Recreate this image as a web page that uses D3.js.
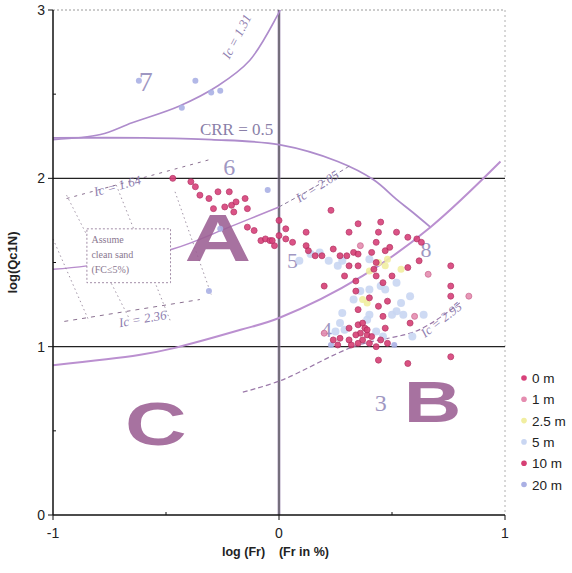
<!DOCTYPE html>
<html>
<head>
<meta charset="utf-8">
<script src="https://cdn.jsdelivr.net/npm/d3@7"></script>
<style>
  body { margin: 0; background: #fff; }
  text { font-family: Arial, "Liberation Sans", sans-serif; }
</style>
</head>
<body>
<div id="chart"></div>
<script>
// tick values
var xTicks = [-1, 0, 1];
var yTicks = [0, 1, 2, 3];
var xMinor = [-0.5, 0.5];
var yMinor = [0.5, 1.5, 2.5];

// series (log Fr, log Qc1N)
var depth0 = [[-0.47,2.00],[-0.39,1.98],[-0.37,1.95],[-0.35,1.90],[-0.31,1.88],[-0.27,1.92],[-0.22,1.92],
  [-0.29,1.82],[-0.24,1.83],[-0.21,1.84],[-0.19,1.86],[-0.15,1.88],[-0.20,1.80],[-0.14,1.82],
  [-0.14,1.71],[-0.11,1.69],[-0.08,1.63],[-0.06,1.64],[-0.04,1.63],[-0.02,1.60],[0.00,1.75],
  [0.03,1.70],[0.00,1.66],[0.03,1.64],[0.06,1.62],[-0.03,1.63],[0.23,1.81],[0.12,1.68],
  [0.35,1.73],[0.31,1.68],[0.45,1.74],[0.44,1.68],[0.52,1.68],[0.57,1.65],[0.43,1.62],
  [0.61,1.64],[0.63,1.62],[0.76,1.48],[0.76,1.36],[0.76,1.30],[0.76,0.94]];
var depth1 = [[0.84,1.30],[0.60,1.18],[0.20,1.08],[0.36,1.60],[0.66,1.43]];
var depth25 = [[0.44,1.50],[0.40,1.45],[0.47,1.48],[0.54,1.46],[0.39,1.26],[0.37,1.28],[0.48,1.52]];
var depth5 = [[0.18,1.56],[0.22,1.51],[0.26,1.48],[0.28,1.51],[0.40,1.52],[0.45,1.36],[0.47,1.34],
  [0.52,1.38],[0.58,1.30],[0.54,1.26],[0.52,1.21],[0.55,1.19],[0.50,1.19],[0.40,1.19],[0.39,1.16],
  [0.27,1.14],[0.29,1.10],[0.43,1.09],[0.46,1.06],[0.25,1.09],[0.28,1.20],[0.64,1.19],[0.59,1.06],
  [0.40,1.34],[0.36,1.33],[0.33,1.28],[0.14,1.55],[0.09,1.51]];
var depth10 = [[0.12,1.60],[0.13,1.57],[0.16,1.54],[0.19,1.54],[0.24,1.58],[0.27,1.54],[0.30,1.54],
  [0.33,1.56],[0.35,1.55],[0.41,1.56],[0.47,1.57],[0.49,1.59],[0.35,1.48],[0.31,1.48],[0.29,1.42],
  [0.42,1.46],[0.43,1.50],[0.43,1.42],[0.50,1.42],[0.46,1.38],[0.57,1.47],[0.62,1.51],[0.34,1.39],
  [0.20,1.36],[0.34,1.33],[0.40,1.29],[0.44,1.24],[0.48,1.27],[0.35,1.22],[0.46,1.18],[0.47,1.11],
  [0.58,1.14],[0.31,1.11],[0.27,1.05],[0.24,1.04],[0.26,1.01],[0.31,1.04],[0.32,1.01],[0.35,1.13],
  [0.37,1.14],[0.38,1.11],[0.36,1.08],[0.39,1.07],[0.37,1.04],[0.40,1.02],[0.43,1.00],[0.45,1.04],
  [0.48,1.02],[0.34,1.07],[0.39,1.10],[0.41,1.06],[0.35,1.02],[0.44,0.92],[0.57,0.90]];
var depth20 = [[-0.62,2.58],[-0.37,2.58],[-0.30,2.51],[-0.26,2.52],[-0.43,2.42],[-0.05,1.93],
  [-0.26,1.70],[-0.31,1.33],[0.23,1.01],[0.51,1.01]];

var seriesNames = ["0 m", "1 m", "2.5 m", "5 m", "10 m", "20 m"];

// boundary curves of the chart
var ic131 = [[-1,2.23],[-0.79,2.26],[-0.65,2.33],[-0.44,2.43],[-0.27,2.55],[-0.13,2.70],[-0.01,2.96],[0.005,3.0]];
var crrLine = [[-1,2.24],[-0.6,2.24],[-0.3,2.23],[0,2.2],[0.26,2.10],[0.42,1.99],[0.52,1.875],[0.59,1.80],[0.67,1.71]];
var ic205 = [[-1,1.46],[-0.85,1.48],[-0.47,1.58],[-0.22,1.71],[0,1.83]];
var ic205dash = [[0,1.83],[0.16,1.95],[0.32,2.08]];
var ic295 = [[-1,0.89],[-0.62,0.95],[-0.47,0.99],[-0.17,1.10],[0,1.17],[0.37,1.42],[0.67,1.71],[0.98,2.10]];
var lowerLine = [[-0.16,0.73],[0.01,0.80],[0.33,1.0],[0.62,1.10],[0.80,1.26]];
var ic164 = [[-0.94,1.88],[-0.31,2.11]];
var ic236 = [[-0.95,1.15],[-0.35,1.28]];
var fcLines = [
  [[-1.0,1.64],[-0.84,1.15]],
  [[-0.94,1.90],[-0.66,1.16]],
  [[-0.72,1.96],[-0.48,1.15]],
  [[-0.46,1.92],[-0.30,1.31]]
];

var svgWidth = 572;
var svgHeight = 573;

var svg = d3.select("#chart")
  .append("svg")
  .attr("width", svgWidth)
  .attr("height", svgHeight);

var x = d3.scaleLinear().domain([-1, 1]).range([53, 505]);
var y = d3.scaleLinear().domain([0, 3]).range([515, 10]);

var line = d3.line().x(d => x(d[0])).y(d => y(d[1]));
var curve = d3.line().x(d => x(d[0])).y(d => y(d[1])).curve(d3.curveCatmullRom);

// frame (top / right dotted)
svg.append("line").attr("x1", x(-1)).attr("x2", x(1)).attr("y1", y(3)).attr("y2", y(3))
  .attr("stroke", "#9a9a9a").attr("stroke-dasharray", "2,2");
svg.append("line").attr("x1", x(1)).attr("x2", x(1)).attr("y1", y(3)).attr("y2", y(0))
  .attr("stroke", "#b0b0b0").attr("stroke-dasharray", "2,3");

// gridlines
svg.selectAll(".hgrid").data([1, 2]).enter().append("line")
  .attr("x1", x(-1)).attr("x2", x(1))
  .attr("y1", d => y(d)).attr("y2", d => y(d))
  .attr("stroke", "#222").attr("stroke-width", 1.2);
svg.append("line").attr("x1", x(0)).attr("x2", x(0)).attr("y1", y(3)).attr("y2", y(0))
  .attr("stroke", "#9a88b0").attr("stroke-width", 3).attr("opacity", 0.7);
svg.append("line").attr("x1", x(0)).attr("x2", x(0)).attr("y1", y(3)).attr("y2", y(0))
  .attr("stroke", "#333").attr("stroke-width", 1);

// boundary lines
var purple = "#ae8ccc";
svg.append("path").attr("d", curve(ic131)).attr("fill", "none").attr("stroke", purple).attr("stroke-width", 1.6);
svg.append("path").attr("d", curve(crrLine)).attr("fill", "none").attr("stroke", purple).attr("stroke-width", 1.8);
svg.append("path").attr("d", curve(ic205)).attr("fill", "none").attr("stroke", "#b78ccc").attr("stroke-width", 1.5);
svg.append("path").attr("d", curve(ic205dash)).attr("fill", "none").attr("stroke", "#8a7a9c").attr("stroke-width", 1).attr("stroke-dasharray", "4,3");
svg.append("path").attr("d", curve(ic295)).attr("fill", "none").attr("stroke", "#bb90d0").attr("stroke-width", 2);
svg.append("path").attr("d", curve(lowerLine)).attr("fill", "none").attr("stroke", "#9a78a8").attr("stroke-width", 1.2).attr("stroke-dasharray", "5,3");
svg.append("path").attr("d", line(ic164)).attr("fill", "none").attr("stroke", "#8a7090").attr("stroke-width", 1).attr("stroke-dasharray", "3,5");
svg.append("path").attr("d", line(ic236)).attr("fill", "none").attr("stroke", "#8a7090").attr("stroke-width", 1).attr("stroke-dasharray", "4,5");
svg.selectAll(".fc").data(fcLines).enter().append("path")
  .attr("d", d => line(d)).attr("fill", "none").attr("stroke", "#8a7a90")
  .attr("stroke-width", 0.8).attr("stroke-dasharray", "1.5,3");

// clean sand box
svg.append("rect").attr("x", x(-0.85)).attr("y", y(1.70))
  .attr("width", x(-0.48) - x(-0.85)).attr("height", y(1.38) - y(1.70))
  .attr("fill", "#fff").attr("stroke", "#8a7090").attr("stroke-dasharray", "2,2").attr("stroke-width", 0.8);
svg.selectAll(".boxtxt").data(["Assume", "clean sand", "(FC\u22645%)"]).enter().append("text")
  .attr("x", x(-0.83)).attr("y", (d, i) => y(1.70) + 14 + i * 15)
  .style("font-family", "'Liberation Serif', serif").style("font-size", "10px")
  .attr("fill", "#8a7890").text(d => d);

// zone numbers and line labels
var serif = "'Liberation Serif', 'DejaVu Serif', serif";
var zoneLabels = [["7",-0.59,2.52,28],["6",-0.22,2.02,24],["5",0.06,1.47,22],["4",0.21,1.06,22],["3",0.45,0.62,24],["8",0.65,1.53,22]];
svg.selectAll(".zone").data(zoneLabels).enter().append("text")
  .attr("x", d => x(d[1])).attr("y", d => y(d[2]))
  .attr("text-anchor", "middle")
  .style("font-family", serif).style("font-size", d => d[3] + "px")
  .attr("fill", "#8f86b8").attr("opacity", 0.85).text(d => d[0]);

svg.append("text").attr("x", x(-0.35)).attr("y", y(2.255))
  .style("font-family", serif).style("font-size", "17px").attr("fill", "#8a80a8").text("CRR = 0.5");

var icLabels = [["Ic = 1.31",-0.17,2.83,-62],["Ic = 2.05",0.18,1.93,-32],["Ic = 1.64",-0.71,1.93,-15],
  ["Ic = 2.36",-0.60,1.14,-10],["Ic = 2.95",0.73,1.14,-38]];
svg.selectAll(".ic").data(icLabels).enter().append("text")
  .attr("transform", d => "translate(" + x(d[1]) + "," + y(d[2]) + ") rotate(" + d[3] + ")")
  .attr("text-anchor", "middle")
  .style("font-family", serif).style("font-size", "13px").style("font-style", "italic")
  .attr("fill", "#9080b0").text(d => d[0]);

// big zone letters (wide, heavy face)
var bigLetters = [["A",-0.27,1.51,66],["B",0.68,0.55,57],["C",-0.545,0.415,61]];
svg.selectAll(".big").data(bigLetters).enter().append("text")
  .attr("transform", d => "translate(" + x(d[1]) + "," + y(d[2]) + ") scale(1.4,1)")
  .attr("text-anchor", "middle")
  .style("font-size", d => d[3] + "px").style("font-weight", "bold")
  .attr("fill", "#9c5f94").attr("opacity", 0.88).text(d => d[0]);

// data points
var seriesStyle = [
  {data: depth20, fill: "#aab0e4", stroke: "none", r: 3},
  {data: depth5, fill: "#c9d6f2", stroke: "none", r: 4},
  {data: depth25, fill: "#f1eea0", stroke: "none", r: 3.5},
  {data: depth1, fill: "#e58db0", stroke: "#c9608a", r: 3},
  {data: depth10, fill: "#d63f74", stroke: "#b02a5c", r: 3},
  {data: depth0, fill: "#d8417a", stroke: "#b22b60", r: 3}
];
seriesStyle.forEach(function(s) {
  svg.append("g").selectAll("circle").data(s.data).enter().append("circle")
    .attr("cx", d => x(d[0])).attr("cy", d => y(d[1])).attr("r", s.r)
    .attr("fill", s.fill).attr("stroke", s.stroke).attr("stroke-width", 0.8)
    .attr("opacity", 0.9);
});

// axes
svg.append("line").attr("x1", x(-1)).attr("x2", x(-1)).attr("y1", y(3)).attr("y2", y(0))
  .attr("stroke", "#111").attr("stroke-width", 1.5);
svg.append("line").attr("x1", x(-1)).attr("x2", x(1)).attr("y1", y(0)).attr("y2", y(0))
  .attr("stroke", "#111").attr("stroke-width", 1.5);
svg.selectAll(".ytick").data(yTicks).enter().append("line")
  .attr("x1", x(-1) - 5).attr("x2", x(-1)).attr("y1", d => y(d)).attr("y2", d => y(d)).attr("stroke", "#111");
svg.selectAll(".yminor").data(yMinor).enter().append("line")
  .attr("x1", x(-1)).attr("x2", x(-1) + 3).attr("y1", d => y(d)).attr("y2", d => y(d)).attr("stroke", "#111");
svg.selectAll(".xtick").data(xTicks).enter().append("line")
  .attr("x1", d => x(d)).attr("x2", d => x(d)).attr("y1", y(0)).attr("y2", y(0) + 5).attr("stroke", "#111");
svg.selectAll(".xminor").data(xMinor).enter().append("line")
  .attr("x1", d => x(d)).attr("x2", d => x(d)).attr("y1", y(0)).attr("y2", y(0) - 3).attr("stroke", "#111");

svg.selectAll(".ylab").data(yTicks).enter().append("text")
  .attr("x", x(-1) - 8).attr("y", d => y(d) + 5).attr("text-anchor", "end")
  .style("font-size", "14px").attr("fill", "#222").text(d => d);
svg.selectAll(".xlab").data(xTicks).enter().append("text")
  .attr("x", d => x(d)).attr("y", y(0) + 23).attr("text-anchor", "middle")
  .style("font-size", "14px").attr("fill", "#222").text(d => d);

svg.append("text").attr("transform", "translate(17," + y(1.5) + ") rotate(-90)")
  .attr("text-anchor", "middle").style("font-size", "13px").style("font-weight", "bold")
  .attr("fill", "#222").text("log(Qc1N)");
svg.append("text").attr("x", 222).attr("y", 556)
  .style("font-size", "12.5px").style("font-weight", "bold").attr("fill", "#222")
  .attr("xml:space", "preserve").text("log (Fr)    (Fr in %)");

// legend
var legendColors = ["#d8417a", "#e58db0", "#f1eea0", "#c9d6f2", "#d63f74", "#aab0e4"];
var legend = svg.append("g").attr("transform", "translate(524,378)");
legend.selectAll("circle").data(seriesNames).enter().append("circle")
  .attr("cx", 0).attr("cy", (d, i) => i * 21.3).attr("r", 2.8)
  .attr("fill", (d, i) => legendColors[i]);
legend.selectAll("text").data(seriesNames).enter().append("text")
  .attr("x", 8).attr("y", (d, i) => i * 21.3 + 5)
  .style("font-size", "13.5px").attr("fill", "#222").text(d => d);
</script>
</body>
</html>
